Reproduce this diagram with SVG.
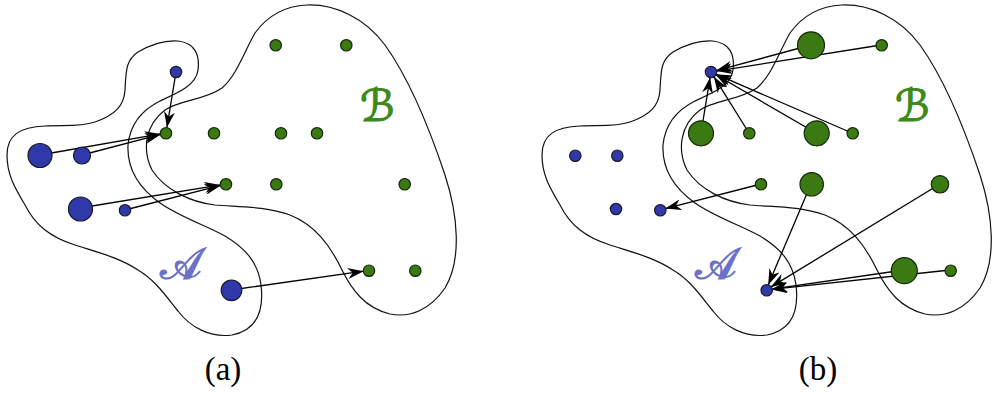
<svg xmlns="http://www.w3.org/2000/svg" xmlns:xlink="http://www.w3.org/1999/xlink" width="992" height="395" viewBox="0 0 992 395">
<style>
.contour{fill:none;stroke:#111;stroke-width:1.2}
.edge{fill:none;stroke:#000;stroke-width:1.3;marker-end:url(#ah)}
.bl{fill:#3039a9;stroke:#1a1a2a;stroke-width:1.2}
.gr{fill:#3b7a12;stroke:#142808;stroke-width:1.2}
.lblA{font-family:"DejaVu Serif","DejaVu Sans",serif;font-size:44px;fill:#6b70c9;stroke:#6b70c9;stroke-width:1.2}
.lblB{font-family:"DejaVu Serif","DejaVu Sans",serif;font-size:44px;fill:#3d8a1a;stroke:#3d8a1a;stroke-width:1.2}
.cap{font-family:"Liberation Serif","Times New Roman",serif;font-size:33px;fill:#000;text-anchor:middle}
</style>
<defs>
<marker id="ah" viewBox="0 0 16 11" refX="16" refY="5.5" markerWidth="16" markerHeight="11" markerUnits="userSpaceOnUse" orient="auto">
<path d="M0,0 L16,5.5 L0,11 L5,5.5 Z" fill="#000"/>
</marker>
<path id="regA" d="M7,155 C7,135 20,127 45,126 C65,125 80,127 95,122 C115,115 124,106 125,90 C126,70 126,60 138,52 C150,45 165,40 178,41 C195,43 200,55 198,70 C196,85 180,92 160,101 C140,111 130,125 128,145 C127,165 135,185 160,203 C180,217 205,225 225,236 C245,248 258,262 261,285 C264,310 258,330 232,335 C210,338 190,327 178,311 C165,295 155,280 138,270 C120,258 100,253 75,245 C50,237 35,225 25,205 C15,188 7,175 7,155 Z"/>
<path id="regB" d="M307,5 C335,4 365,18 385,45 C410,80 430,130 445,175 C458,215 462,260 445,288 C430,310 410,318 390,314 C365,308 352,290 342,270 C330,245 315,225 290,215 C265,206 240,207 215,205 C190,202 165,190 152,170 C142,150 145,125 165,110 C180,100 205,100 222,88 C237,75 245,50 255,33 C268,15 285,6 307,5 Z"/>
</defs>
<rect width="992" height="395" fill="#fff"/>
<g id="regions">
<use xlink:href="#regA" class="contour"/>
<use xlink:href="#regB" class="contour"/>
<use xlink:href="#regA" class="contour" transform="translate(535,0)"/>
<use xlink:href="#regB" class="contour" transform="translate(535,0)"/>
</g>
<g id="connectors">
<line class="edge" x1="176" y1="72" x2="166.9" y2="127.6"/>
<line class="edge" x1="40" y1="155" x2="160.6" y2="133.9"/>
<line class="edge" x1="82" y1="155" x2="160.7" y2="134.4"/>
<line class="edge" x1="80" y1="208" x2="220.6" y2="184.9"/>
<line class="edge" x1="125" y1="210" x2="220.7" y2="185.4"/>
<line class="edge" x1="231" y1="290" x2="363.6" y2="271.2"/>
<line class="edge" x1="881" y1="45" x2="716.4" y2="71.1"/>
<line class="edge" x1="811" y1="45" x2="716.3" y2="70.6"/>
<line class="edge" x1="701" y1="133" x2="710.1" y2="77.4"/>
<line class="edge" x1="749" y1="133" x2="713.9" y2="76.7"/>
<line class="edge" x1="816" y1="133" x2="715.8" y2="74.8"/>
<line class="edge" x1="852" y1="133" x2="716" y2="74.2"/>
<line class="edge" x1="761" y1="184" x2="665.3" y2="208.6"/>
<line class="edge" x1="811" y1="184" x2="768.2" y2="284.9"/>
<line class="edge" x1="940" y1="184" x2="770.7" y2="287.1"/>
<line class="edge" x1="904" y1="270" x2="771.4" y2="289.2"/>
<line class="edge" x1="950" y1="270" x2="771.5" y2="289.4"/>
</g>
<g id="a-blue-1"><circle class="bl" cx="176" cy="72" r="5.7"/></g>
<g id="a-blue-2"><circle class="bl" cx="40" cy="155.5" r="12"/></g>
<g id="a-blue-3"><circle class="bl" cx="82" cy="155.5" r="8.5"/></g>
<g id="a-blue-4"><circle class="bl" cx="80.5" cy="209" r="12"/></g>
<g id="a-blue-5"><circle class="bl" cx="125" cy="210.3" r="5.7"/></g>
<g id="a-blue-6"><circle class="bl" cx="231.5" cy="290.3" r="10.3"/></g>
<g id="a-green-1"><circle class="gr" cx="166" cy="133.3" r="5.7"/></g>
<g id="a-green-2"><circle class="gr" cx="214" cy="133.3" r="5.7"/></g>
<g id="a-green-3"><circle class="gr" cx="226" cy="184.3" r="5.7"/></g>
<g id="a-green-4"><circle class="gr" cx="275.7" cy="45.3" r="5.7"/></g>
<g id="a-green-5"><circle class="gr" cx="346.3" cy="45.3" r="5.7"/></g>
<g id="a-green-6"><circle class="gr" cx="281" cy="133.3" r="5.7"/></g>
<g id="a-green-7"><circle class="gr" cx="317" cy="133.3" r="5.7"/></g>
<g id="a-green-8"><circle class="gr" cx="276.3" cy="184.3" r="5.7"/></g>
<g id="a-green-9"><circle class="gr" cx="404.7" cy="184.3" r="5.7"/></g>
<g id="a-green-10"><circle class="gr" cx="369" cy="270.7" r="5.7"/></g>
<g id="a-green-11"><circle class="gr" cx="415.3" cy="270.7" r="5.7"/></g>
<g id="b-blue-1"><circle class="bl" cx="711" cy="72" r="5.7"/></g>
<g id="b-blue-2"><circle class="bl" cx="575.3" cy="155.7" r="5.7"/></g>
<g id="b-blue-3"><circle class="bl" cx="617.3" cy="155.7" r="5.7"/></g>
<g id="b-blue-4"><circle class="bl" cx="616" cy="209" r="5.7"/></g>
<g id="b-blue-5"><circle class="bl" cx="660.3" cy="210.3" r="5.7"/></g>
<g id="b-blue-6"><circle class="bl" cx="766.7" cy="290.3" r="5.7"/></g>
<g id="b-green-1"><circle class="gr" cx="701" cy="133.3" r="12.5"/></g>
<g id="b-green-2"><circle class="gr" cx="749.3" cy="133.3" r="5.7"/></g>
<g id="b-green-3"><circle class="gr" cx="811" cy="45.3" r="13.5"/></g>
<g id="b-green-4"><circle class="gr" cx="881.7" cy="45.3" r="5.7"/></g>
<g id="b-green-5"><circle class="gr" cx="816.7" cy="133.3" r="12.5"/></g>
<g id="b-green-6"><circle class="gr" cx="852.7" cy="133.3" r="5.7"/></g>
<g id="b-green-7"><circle class="gr" cx="761" cy="184.3" r="5.7"/></g>
<g id="b-green-8"><circle class="gr" cx="811.7" cy="184.3" r="11.7"/></g>
<g id="b-green-9"><circle class="gr" cx="940" cy="184.3" r="8.7"/></g>
<g id="b-green-10"><circle class="gr" cx="904.3" cy="270.7" r="13"/></g>
<g id="b-green-11"><circle class="gr" cx="950.7" cy="270.7" r="5.7"/></g>
<g id="labels">
<text class="lblA" x="160" y="279">𝒜</text>
<text class="lblB" x="360" y="121">ℬ</text>
<text class="lblA" x="695" y="279">𝒜</text>
<text class="lblB" x="895" y="121">ℬ</text>
<text class="cap" x="223" y="380">(a)</text>
<text class="cap" x="818" y="380">(b)</text>
</g>
</svg>
